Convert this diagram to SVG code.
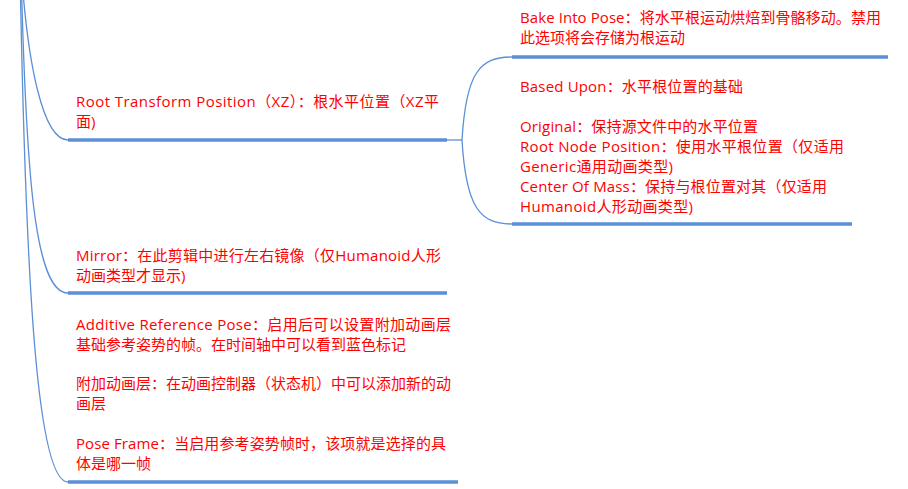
<svg xmlns="http://www.w3.org/2000/svg" width="908" height="489" viewBox="0 0 908 489">
<style>
.t{font-family:"Open Sans","Noto Sans CJK SC",sans-serif;font-size:15px;fill:#ff0000}
.c{fill:none;stroke:#5b8fd6;stroke-width:1.3}
.u{fill:none;stroke:#5b8fd6;stroke-width:3.5}
</style>
<rect width="908" height="489" fill="#ffffff"/>
<g id="connectors">
<path class="c" d="M22,-20 C28,60 42,140 68,140"/>
<path class="c" d="M21,-30 C26,170 34,293 68,293"/>
<path class="c" d="M20,-30 C26,300 38,482 68,482"/>
<path class="c" d="M447,140 L462,140"/>
<path class="c" d="M462,140 C466,72 480,57 512,57"/>
<path class="c" d="M462,140 C466,208 480,224 512,224"/>
</g>
<g id="root-transform">
<path class="u" d="M68,140 H447"/>
<text class="t" x="76" y="107" textLength="363">Root Transform Position（XZ）：根水平位置（XZ平</text>
<text class="t" x="76" y="127">面)</text>
</g>
<g id="bake-into-pose">
<path class="u" d="M512,57 H888"/>
<text class="t" x="520" y="23" textLength="361">Bake Into Pose：将水平根运动烘焙到骨骼移动。禁用</text>
<text class="t" x="520" y="43">此选项将会存储为根运动</text>
</g>
<g id="based-upon">
<path class="u" d="M512,224 H852"/>
<text class="t" x="520" y="92" textLength="223">Based Upon：水平根位置的基础</text>
<text class="t" x="520" y="132" textLength="238">Original：保持源文件中的水平位置</text>
<text class="t" x="520" y="152" textLength="324">Root Node Position：使用水平根位置（仅适用</text>
<text class="t" x="520" y="172" textLength="153">Generic通用动画类型)</text>
<text class="t" x="520" y="192" textLength="307">Center Of Mass：保持与根位置对其（仅适用</text>
<text class="t" x="520" y="212" textLength="173">Humanoid人形动画类型)</text>
</g>
<g id="mirror">
<path class="u" d="M68,293 H447"/>
<text class="t" x="76" y="261" textLength="365">Mirror：在此剪辑中进行左右镜像（仅Humanoid人形</text>
<text class="t" x="76" y="281">动画类型才显示)</text>
</g>
<g id="pose-frame">
<path class="u" d="M68,482 H458"/>
<text class="t" x="76" y="330" textLength="375">Additive Reference Pose：启用后可以设置附加动画层</text>
<text class="t" x="76" y="350">基础参考姿势的帧。在时间轴中可以看到蓝色标记</text>
<text class="t" x="76" y="389" textLength="375">附加动画层：在动画控制器（状态机）中可以添加新的动</text>
<text class="t" x="76" y="409">画层</text>
<text class="t" x="76" y="449" textLength="370">Pose Frame：当启用参考姿势帧时，该项就是选择的具</text>
<text class="t" x="76" y="469">体是哪一帧</text>
</g>
</svg>
